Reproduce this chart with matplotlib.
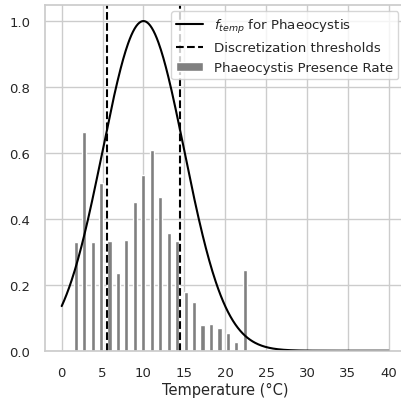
import numpy as np
import seaborn as sns
from matplotlib import pyplot as plt

sns.set_theme(style="whitegrid")

# binned presence rate of Phaeocystis by temperature
bin_centers = [1.72, 2.75, 3.78, 4.82, 5.85, 6.89, 7.92, 8.96, 9.99, 11.02,
               12.06, 13.09, 14.13, 15.16, 16.20, 17.23, 18.27, 19.30, 20.34,
               21.37, 22.41]
presence = [0.33, 0.664, 0.33, 0.51, 0.333, 0.236, 0.337, 0.451, 0.534, 0.608,
            0.467, 0.358, 0.333, 0.179, 0.148, 0.078, 0.081, 0.07, 0.054,
            0.027, 0.245]

thresholds = [5.5, 14.5]

# f_temp parameters
T_OPT = 10.0
SIGMA = 5.0

temps = np.linspace(0, 40, 400)
f_temp = np.exp(-((temps - T_OPT) ** 2) / (2 * SIGMA ** 2))

fig = plt.figure(figsize=(4.02, 4.02), dpi=100)
ax = fig.add_axes([0.1128, 0.1251, 0.8947, 0.861])

ax.plot(temps, f_temp, color='black', lw=1.5, label='$f_{temp}$ for Phaeocystis')
for i, t in enumerate(thresholds):
    ax.axvline(t, color='black', ls='--', lw=1.5,
               label='Discretization thresholds' if i == 0 else None)
ax.bar(bin_centers, presence, width=0.5, color='gray', label='Phaeocystis Presence Rate')

ax.set_xlim(-2, 42)
ax.set_ylim(0, 1.05)
ax.set_xticks(range(0, 41, 5))
ax.set_yticks([0, 0.2, 0.4, 0.6, 0.8, 1.0])
ax.tick_params(axis='x', labelsize=9.5, pad=5)
ax.tick_params(axis='y', labelsize=9.5, pad=5)
ax.set_xlabel('Temperature (°C)', fontsize=10.5, labelpad=2)
ax.legend(loc='upper right', fontsize=9.6)

plt.savefig('out.png', dpi=100)
